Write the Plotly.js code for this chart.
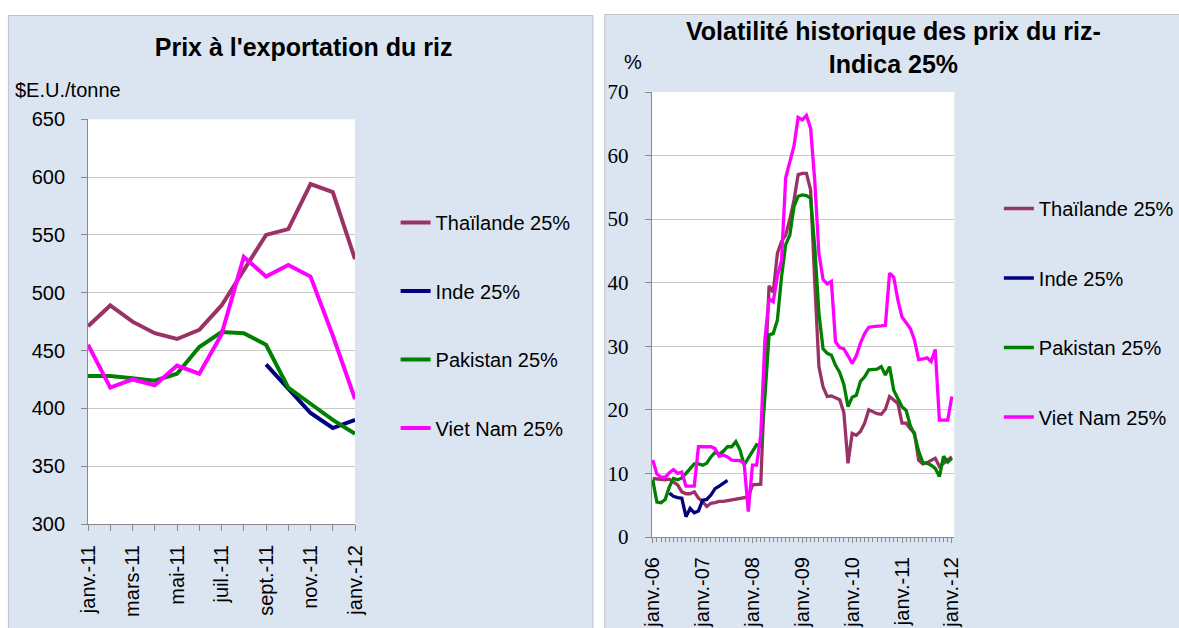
<!DOCTYPE html>
<html><head><meta charset="utf-8">
<script src="https://cdn.plot.ly/plotly-3.0.1.min.js"></script>
<style>html,body{margin:0;padding:0;background:#fff;} #chart{width:1179px;height:628px;}</style>
</head><body><div id="chart"></div>
<script>
// ---------- Left chart data: Prix à l'exportation du riz ($E.U./tonne) ----------
const monthsLeft = ['janv.-11','févr.-11','mars-11','avr.-11','mai-11','juin-11','juil.-11','août-11','sept.-11','oct.-11','nov.-11','déc.-11','janv.-12'];
const thaiPrice = [471, 489, 475, 465, 460, 468, 489, 519, 550, 555, 594, 587, 529];
const indePrice = [null, null, null, null, null, null, null, null, 438, 417, 396, 383, 390];
const pakPrice  = [428, 428, 426, 424, 430, 453, 466, 465, 455, 418, 404, 390, 378];
const vietPrice = [455, 418, 425, 420, 437, 430, 464, 531, 514, 524, 514, 463, 408];

// ---------- Right chart data: Volatilité historique (%) monthly, janv.-06 .. janv.-12 ----------
const yearLabels = ['janv.-06','janv.-07','janv.-08','janv.-09','janv.-10','janv.-11','janv.-12'];
const volTicks = [0, 10, 20, 30, 40, 50, 60, 70];
const thaiVol = [9.2, 9.1, 9.0, 9.0, 9.1, 8.7, 8.2, 7.1, 6.8, 6.8,
  7.1, 6.1, 5.6, 4.8, 5.3, 5.4, 5.6, 5.6, 5.7, 5.8,
  5.9, 6.1, 6.2, 6.3, 8.2, 8.2, 8.3, 25.0, 39.5, 38.5,
  44.6, 46.5, 47.5, 50.0, 53.0, 57.0, 57.2, 57.2, 54.6, 40.0,
  26.8, 23.6, 22.1, 22.2, 21.9, 21.6, 19.6, 11.6, 16.3, 16.0,
  16.6, 17.9, 20.0, 19.7, 19.4, 19.3, 20.1, 22.1, 21.5, 21.0,
  17.9, 17.9, 17.0, 16.4, 12.1, 11.5, 11.7, 12.0, 12.4, 11.1,
  11.6, 12.1, 12.6];
const indeVol = [null, null, null, null, 6.9, 6.4, 6.2, 6.1, 3.2, 4.5,
  3.8, 4.1, 5.8, 5.9, 6.6, 7.6, 8.0, 8.4, 8.9, null,
  null, null, null, null, null, null, null, null, null, null,
  null, null, null, null, null, null, null, null, null, null,
  null, null, null, null, null, null, null, null, null, null,
  null, null, null, null, null, null, null, null, null, null,
  null, null, null, null, null, null, null, null, null, null,
  null, null, null];
const pakVol = [9.0, 5.5, 5.4, 5.9, 7.9, 9.2, 9.0, 9.3, 10.0, 10.8,
  11.5, 11.5, 11.3, 11.6, 12.6, 13.3, 13.0, 13.5, 14.2, 14.2,
  15.0, 13.7, 11.3, 12.4, 13.4, 14.5, 14.3, 22.0, 31.8, 32.0,
  34.1, 40.9, 46.0, 47.5, 52.0, 53.6, 53.8, 53.7, 53.3, 45.6,
  35.2, 29.6, 28.9, 28.6, 27.0, 25.9, 24.0, 20.5, 22.0, 22.3,
  24.5, 25.2, 26.3, 26.4, 26.4, 26.8, 25.5, 26.8, 23.1, 21.8,
  20.5, 19.9, 17.5, 16.1, 13.5, 11.7, 11.6, 11.3, 10.8, 9.5,
  12.7, 11.8, 12.4];
const vietVol = [12.1, 9.9, 9.4, 9.4, 10.1, 10.6, 10.0, 10.2, 8.0, 8.0,
  8.0, 14.2, 14.2, 14.2, 14.2, 13.9, 12.7, 12.9, 12.6, 12.1,
  12.0, 12.0, 11.6, 4.0, 11.3, 11.3, 16.0, 31.0, 37.5, 37.0,
  41.0, 43.5, 56.5, 58.8, 61.5, 66.0, 65.6, 66.3, 64.3, 56.0,
  44.6, 40.5, 39.8, 40.2, 30.7, 29.8, 29.6, 28.5, 27.3, 28.5,
  30.5, 32.0, 33.0, 33.1, 33.1, 33.2, 33.3, 41.5, 40.9, 37.3,
  34.6, 33.8, 32.8, 31.0, 27.9, 28.0, 28.2, 27.6, 29.5, 18.4,
  18.4, 18.4, 22.1];

const seriesNames = ['Thaïlande 25%', 'Inde 25%', 'Pakistan 25%', 'Viet Nam 25%'];
const seriesColors = ['#993366', '#000080', '#008000', '#FF00FF'];

// ---------- geometry helpers (page pixels -> paper fractions) ----------
const W = 1179, H = 628;
const px = x => x / W;
const py = y => 1 - y / H;

const monthIdx = thaiVol.map((_, i) => i);
const yearTicks = yearLabels.map((_, i) => i * 12);

const FONT = 'Liberation Sans';
const SERIF = 'Liberation Serif';
const AXC = '#8a8a8a';
const GRID = '#c8c8c8';

const leftSeries = [thaiPrice, indePrice, pakPrice, vietPrice];
const rightSeries = [thaiVol, indeVol, pakVol, vietVol];

const traces = [];
leftSeries.forEach((ys, k) => {
  traces.push({
    x: monthsLeft, y: ys, type: 'scatter', mode: 'lines',
    name: seriesNames[k], legend: 'legend', legendgroup: 'L' + k,
    line: {color: seriesColors[k], width: 4}, xaxis: 'x', yaxis: 'y',
    connectgaps: false, hoverinfo: 'skip'
  });
});
rightSeries.forEach((ys, k) => {
  traces.push({
    x: monthIdx, y: ys, type: 'scatter', mode: 'lines',
    name: seriesNames[k], legend: 'legend2', legendgroup: 'R' + k,
    line: {color: seriesColors[k], width: 3.3}, xaxis: 'x2', yaxis: 'y2',
    connectgaps: false, hoverinfo: 'skip'
  });
});

const layout = {
  width: W, height: H,
  margin: {l: 0, r: 0, t: 0, b: 0, pad: 0},
  paper_bgcolor: '#ffffff',
  plot_bgcolor: 'rgba(0,0,0,0)',
  font: {family: FONT, size: 20, color: '#000000'},
  showlegend: true,
  title: {
    text: "<b>Prix à l'exportation du riz</b>",
    x: px(307), xref: 'paper', xanchor: 'center',
    y: py(47), yref: 'paper', yanchor: 'middle',
    font: {family: FONT, size: 25, color: '#000000'}
  },
  xaxis: {
    domain: [px(89), px(359)], anchor: 'y', type: 'category',
    range: [0, monthsLeft.length - 1],
    tickmode: 'array', tickvals: monthsLeft,
    ticktext: monthsLeft.map((m, i) => (i % 2 === 0 ? m : '')),
    tickangle: -90, ticks: 'outside', ticklen: 6, tickcolor: AXC, tickwidth: 1,
    showline: true, linecolor: AXC, linewidth: 1, showgrid: false, zeroline: false,
    tickfont: {family: FONT, size: 20, color: '#000'}, ticklabelstandoff: 6,
    fixedrange: true
  },
  yaxis: {
    domain: [py(524), py(119.3)], anchor: 'x',
    range: [300, 650], tickmode: 'linear', tick0: 300, dtick: 50,
    ticks: 'outside', ticklen: 6, tickcolor: AXC, tickwidth: 1,
    showline: true, linecolor: AXC, linewidth: 1,
    showgrid: true, gridcolor: GRID, gridwidth: 1, zeroline: false,
    tickfont: {family: FONT, size: 20, color: '#000'}, ticklabelstandoff: 12,
    fixedrange: true
  },
  xaxis2: {
    domain: [px(659), px(965)], anchor: 'y2',
    range: [-0.24, 72.6],
    tickmode: 'array', tickvals: yearTicks, ticktext: yearLabels,
    tickangle: -90, ticks: 'outside', ticklen: 5, tickcolor: AXC, tickwidth: 1,
    minor: {tickmode: 'linear', tick0: 0, dtick: 1, ticks: 'outside', ticklen: 4, tickcolor: AXC, tickwidth: 1, showgrid: false},
    showline: true, linecolor: AXC, linewidth: 1, showgrid: false, zeroline: false,
    tickfont: {family: FONT, size: 20, color: '#000'}, ticklabelstandoff: 6,
    fixedrange: true
  },
  yaxis2: {
    domain: [py(537), py(92)], anchor: 'x2',
    range: [0, 70], tickmode: 'array', tickvals: volTicks,
    ticktext: volTicks.map(v => '<span style="font-family:Liberation Serif, Times New Roman, serif">' + v + '</span>'),
    ticks: 'outside', ticklen: 6, tickcolor: AXC, tickwidth: 1,
    showline: true, linecolor: AXC, linewidth: 1,
    showgrid: true, gridcolor: GRID, gridwidth: 1, zeroline: false,
    tickfont: {family: SERIF, size: 21, color: '#000'}, ticklabelstandoff: 12,
    fixedrange: true
  },
  legend: {
    x: px(400), xanchor: 'left', y: py(203), yanchor: 'top',
    bgcolor: 'rgba(0,0,0,0)', borderwidth: 0,
    font: {family: FONT, size: 20, color: '#000'},
    traceorder: 'grouped', tracegroupgap: 39.5
  },
  legend2: {
    x: px(1010), xanchor: 'left', y: py(189), yanchor: 'top',
    bgcolor: 'rgba(0,0,0,0)', borderwidth: 0,
    font: {family: FONT, size: 20, color: '#000'},
    traceorder: 'grouped', tracegroupgap: 40.5
  },
  shapes: [
    {type: 'rect', xref: 'paper', yref: 'paper', layer: 'below',
     x0: px(8.5), x1: px(599.5), y0: -0.05, y1: py(15.5),
     fillcolor: '#dbe5f1', line: {color: '#c0c0c0', width: 1}},
    {type: 'rect', xref: 'paper', yref: 'paper', layer: 'below',
     x0: px(611.5), x1: 1.05, y0: -0.05, y1: py(14.5),
     fillcolor: '#dbe5f1', line: {color: '#c0c0c0', width: 1}},
    {type: 'rect', xref: 'paper', yref: 'paper', layer: 'below',
     x0: px(89), x1: px(359), y0: py(524), y1: py(119.3),
     fillcolor: '#ffffff', line: {width: 0}},
    {type: 'rect', xref: 'paper', yref: 'paper', layer: 'below',
     x0: px(659), x1: px(965), y0: py(537), y1: py(92),
     fillcolor: '#ffffff', line: {width: 0}}
  ],
  annotations: [
    {text: '<b>Volatilité historique des prix du riz-<br>Indica 25%</b>',
     xref: 'paper', yref: 'paper', x: px(903), y: py(48), xanchor: 'center', yanchor: 'middle',
     showarrow: false, font: {family: FONT, size: 25, color: '#000'}},
    {text: '$E.U./tonne', xref: 'paper', yref: 'paper', x: px(13), y: py(90),
     xanchor: 'left', yanchor: 'middle', showarrow: false,
     font: {family: FONT, size: 20, color: '#000'}},
    {text: '%', xref: 'paper', yref: 'paper', x: px(640), y: py(62),
     xanchor: 'center', yanchor: 'middle', showarrow: false,
     font: {family: FONT, size: 20, color: '#000'}}
  ]
};

Plotly.newPlot('chart', traces, layout, {staticPlot: true, displayModeBar: false});
</script>
</body></html>
